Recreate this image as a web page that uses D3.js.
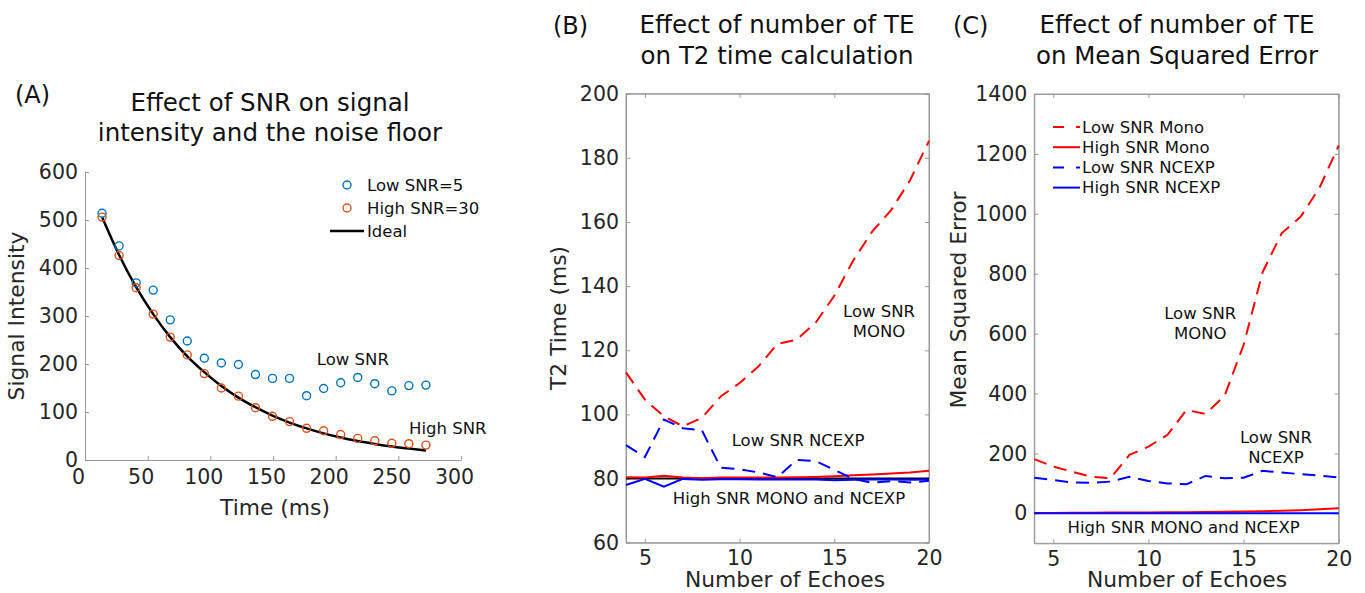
<!DOCTYPE html>
<html>
<head>
<meta charset="utf-8">
<script src="https://cdn.jsdelivr.net/npm/d3@7"></script>
<style>
  body { margin: 0; background: #fff; }
  text { font-family: "DejaVu Sans", Verdana, sans-serif; }
</style>
</head>
<body>
<script>
// ---- data ----
var timeMs = [13.6, 27.2, 40.8, 54.4, 68, 81.6, 95.2, 108.8, 122.4, 136, 149.6, 163.2, 176.8, 190.4, 204, 217.6, 231.2, 244.8, 258.4, 272];
var lowSnrSignal = [514, 446, 369, 354, 292, 248, 212, 202, 199, 178, 170, 170, 134, 149, 161, 172, 159, 144, 155, 156];
var highSnrSignal = [506, 426, 359, 304, 256, 219, 180, 150, 133, 109, 91, 80, 66, 61, 53, 45, 40, 35, 34, 31];
var idealSignal = [506, 427, 360, 304, 256, 216, 183, 154, 130, 110, 92.5, 78, 65.8, 55.5, 46.9, 39.5, 33.4, 28.1, 23.8, 20];

var echoes = [4, 5, 6, 7, 8, 9, 10, 11, 12, 13, 14, 15, 16, 17, 18, 19, 20];
var t2LowMono = [113.1, 104.6, 99.4, 96.3, 98.9, 105.6, 109.8, 115, 122, 123.3, 128.5, 137, 148, 157, 163.7, 173, 185.3];
var t2HighMono = [80.4, 80.3, 80.9, 80.3, 80.1, 80.3, 80.3, 80.3, 80.3, 80.4, 80.5, 80.7, 81, 81.3, 81.6, 81.9, 82.4];
var t2LowNcexp = [90.4, 86.7, 98.4, 95.7, 95.1, 83.4, 82.9, 81.9, 80.4, 85.8, 85.5, 82.7, 79.9, 78.7, 79.2, 78.8, 79.3];
var t2HighNcexp = [78, 79.9, 77.5, 79.9, 79.6, 79.8, 79.8, 79.7, 79.7, 79.7, 79.7, 79.5, 79.6, 79.7, 79.7, 79.6, 79.7];
var t2True = [80, 80];

var mseLowMono = [181, 156, 139, 122, 117, 195, 223, 262, 345, 332, 392, 562, 805, 935, 990, 1088, 1228];
var mseHighMono = [1, 1.5, 2, 2, 2.5, 3, 3, 3.5, 4, 4.5, 5, 6, 7, 8.5, 10.5, 13.5, 17];
var mseLowNcexp = [119, 111, 103, 102, 106, 122, 108, 100, 97, 125, 117, 119, 142, 136, 131, 126, 120];
var mseHighNcexp = [0.6, 0.5, 0.7, 0.5, 0.6, 0.6, 0.5, 0.5, 0.6, 0.5, 0.6, 0.5, 0.6, 0.6, 0.5, 0.6, 0.6];

var timeTicks = [0, 50, 100, 150, 200, 250, 300];
var signalTicks = [0, 100, 200, 300, 400, 500, 600];
var echoTicks = [5, 10, 15, 20];
var t2Ticks = [60, 80, 100, 120, 140, 160, 180, 200];
var mseTicks = [0, 200, 400, 600, 800, 1000, 1200, 1400];

var blueMark = "#0072BD", orangeMark = "#D95319";
var axisGrey = "#9a9a9a", txt = "#262626";
var fmt = d3.format("d");

var svg = d3.select("body").append("svg")
  .attr("width", 1365)
  .attr("height", 593);

// style an axis group the matlab way
function styleAxis(g, fs) {
  g.select(".domain").attr("stroke", axisGrey);
  g.selectAll(".tick line").attr("stroke", axisGrey);
  g.selectAll("text").attr("fill", txt).style("font-size", fs + "px")
    .style("font-family", "'DejaVu Sans', Verdana, sans-serif");
}

function addText(x, y, s, size, anchor, col) {
  return svg.append("text")
    .attr("x", x).attr("y", y)
    .attr("text-anchor", anchor || "start")
    .style("font-size", size + "px")
    .attr("fill", col || "#111")
    .text(s);
}

// ======================= panel A =======================
var xA = d3.scaleLinear().domain([0, 300]).range([85, 461]);
var yA = d3.scaleLinear().domain([0, 600]).range([460, 172]);

svg.append("g")
  .attr("transform", "translate(0,460)")
  .call(d3.axisBottom(xA).tickValues(timeTicks).tickFormat(fmt).tickSizeInner(-4).tickSizeOuter(0).tickPadding(9))
  .call(styleAxis, 20.5)
  .selectAll("text").attr("dx", -7);

svg.append("g")
  .attr("transform", "translate(85,0)")
  .call(d3.axisLeft(yA).tickValues(signalTicks).tickFormat(fmt).tickSizeInner(-4).tickSizeOuter(0).tickPadding(7))
  .call(styleAxis, 20.5);

// ideal decay curve
svg.append("path")
  .datum(timeMs)
  .attr("fill", "none")
  .attr("stroke", "black")
  .attr("stroke-width", 2.5)
  .attr("d", d3.line()
    .curve(d3.curveMonotoneX)
    .x(function (d) { return xA(d); })
    .y(function (d, i) { return yA(idealSignal[i]); }));

svg.append("g").selectAll("circle")
  .data(timeMs)
  .enter()
  .append("circle")
  .attr("cx", function (d) { return xA(d); })
  .attr("cy", function (d, i) { return yA(lowSnrSignal[i]); })
  .attr("r", 4)
  .attr("fill", "none")
  .attr("stroke", blueMark)
  .attr("stroke-width", 1.4);

svg.append("g").selectAll("circle")
  .data(timeMs)
  .enter()
  .append("circle")
  .attr("cx", function (d) { return xA(d); })
  .attr("cy", function (d, i) { return yA(highSnrSignal[i]); })
  .attr("r", 4)
  .attr("fill", "none")
  .attr("stroke", orangeMark)
  .attr("stroke-width", 1.4);

// legend A
svg.append("circle").attr("cx", 347).attr("cy", 185).attr("r", 4)
  .attr("fill", "none").attr("stroke", blueMark).attr("stroke-width", 1.4);
svg.append("circle").attr("cx", 347).attr("cy", 208).attr("r", 4)
  .attr("fill", "none").attr("stroke", orangeMark).attr("stroke-width", 1.4);
svg.append("line").attr("x1", 330).attr("x2", 364).attr("y1", 231).attr("y2", 231)
  .attr("stroke", "black").attr("stroke-width", 2.5);
addText(367, 185, "Low SNR=5", 16.5).attr("dy", "0.35em");
addText(367, 208, "High SNR=30", 16.5).attr("dy", "0.35em");
addText(367, 231, "Ideal", 16.5).attr("dy", "0.35em");

addText(xA(185), yA(198), "Low SNR", 16.5);
addText(xA(258.5), yA(54), "High SNR", 16.5);

addText(15, 103, "(A)", 24);
addText(270, 110.5, "Effect of SNR on signal", 24.5, "middle");
addText(270, 140.5, "intensity and the noise floor", 24.5, "middle");
addText(275, 515, "Time (ms)", 21.8, "middle", txt);
svg.append("text")
  .attr("transform", "translate(24,316)rotate(-90)")
  .attr("text-anchor", "middle")
  .style("font-size", "21.8px")
  .attr("fill", txt)
  .text("Signal Intensity");

// ======================= panels B & C =======================
function boxPanel(x, y, yTicks) {
  var r = x.range(), d = y.range();
  svg.append("rect")
    .attr("x", r[0]).attr("y", d[1])
    .attr("width", r[1] - r[0]).attr("height", d[0] - d[1])
    .attr("fill", "none").attr("stroke", axisGrey);
  svg.append("g").attr("transform", "translate(0," + d[0] + ")")
    .call(d3.axisBottom(x).tickValues(echoTicks).tickFormat(fmt).tickSizeInner(-4).tickSizeOuter(0).tickPadding(8))
    .call(styleAxis, 20.5);
  svg.append("g").attr("transform", "translate(0," + d[1] + ")")
    .call(d3.axisTop(x).tickValues(echoTicks).tickSizeInner(-4).tickSizeOuter(0).tickFormat(""))
    .call(styleAxis, 20.5);
  svg.append("g").attr("transform", "translate(" + r[0] + ",0)")
    .call(d3.axisLeft(y).tickValues(yTicks).tickFormat(fmt).tickSizeInner(-4).tickSizeOuter(0).tickPadding(7))
    .call(styleAxis, 20.5);
  svg.append("g").attr("transform", "translate(" + r[1] + ",0)")
    .call(d3.axisRight(y).tickValues(yTicks).tickSizeInner(-4).tickSizeOuter(0).tickFormat(""))
    .call(styleAxis, 20.5);
}

function series(x, y, vals, col, dashed) {
  svg.append("path")
    .datum(vals)
    .attr("fill", "none")
    .attr("stroke", col)
    .attr("stroke-width", 2)
    .attr("stroke-dasharray", dashed ? "13,8" : null)
    .attr("d", d3.line()
      .x(function (d, i) { return x(echoes[i]); })
      .y(function (d) { return y(d); }));
}

// ---- B ----
var xB = d3.scaleLinear().domain([4, 20]).range([626, 929]);
var yB = d3.scaleLinear().domain([60, 200]).range([542.7, 93.7]);
boxPanel(xB, yB, t2Ticks);

svg.append("line")
  .attr("x1", xB(4)).attr("x2", xB(20))
  .attr("y1", yB(t2True[0])).attr("y2", yB(t2True[1]))
  .attr("stroke", "black").attr("stroke-width", 2);
series(xB, yB, t2HighMono, "red", false);
series(xB, yB, t2HighNcexp, "blue", false);
series(xB, yB, t2LowMono, "red", true);
series(xB, yB, t2LowNcexp, "blue", true);

addText(xB(17.36), yB(130.5), "Low SNR", 16.5, "middle");
addText(xB(17.36), yB(124), "MONO", 16.5, "middle");
addText(xB(9.58), yB(90.2), "Low SNR NCEXP", 16.5);
addText(xB(6.47), yB(72.1), "High SNR MONO and NCEXP", 16.5);

addText(553, 34, "(B)", 24);
addText(777, 33, "Effect of number of TE", 24.5, "middle");
addText(777, 63.5, "on T2 time calculation", 24.5, "middle");
addText(785, 587, "Number of Echoes", 21.8, "middle", txt);
svg.append("text")
  .attr("transform", "translate(566,318)rotate(-90)")
  .attr("text-anchor", "middle")
  .style("font-size", "21.8px")
  .attr("fill", txt)
  .text("T2 Time (ms)");

// ---- C ----
var xC = d3.scaleLinear().domain([4, 20]).range([1034.3, 1338.7]);
var yC = d3.scaleLinear().domain([-100, 1400]).range([543.3, 94]);
boxPanel(xC, yC, mseTicks);

series(xC, yC, mseHighMono, "red", false);
series(xC, yC, mseHighNcexp, "blue", false);
series(xC, yC, mseLowMono, "red", true);
series(xC, yC, mseLowNcexp, "blue", true);

// legend C
var legC = [
  { name: "Low SNR Mono", col: "red", dash: true },
  { name: "High SNR Mono", col: "red", dash: false },
  { name: "Low SNR NCEXP", col: "blue", dash: true },
  { name: "High SNR NCEXP", col: "blue", dash: false }
];
svg.selectAll("legC")
  .data(legC)
  .enter()
  .append("line")
  .attr("x1", 1053).attr("x2", 1080)
  .attr("y1", function (d, i) { return 127 + i * 20.2; })
  .attr("y2", function (d, i) { return 127 + i * 20.2; })
  .attr("stroke", function (d) { return d.col; })
  .attr("stroke-width", 2)
  .attr("stroke-dasharray", function (d) { return d.dash ? "11,12" : null; });
svg.selectAll("legCtxt")
  .data(legC)
  .enter()
  .append("text")
  .attr("x", 1082)
  .attr("y", function (d, i) { return 127 + i * 20.2; })
  .attr("dy", "0.35em")
  .style("font-size", "16.5px")
  .attr("fill", "#111")
  .text(function (d) { return d.name; });

addText(xC(12.72), yC(648), "Low SNR", 16.5, "middle");
addText(xC(12.72), yC(581), "MONO", 16.5, "middle");
addText(xC(16.7), yC(236), "Low SNR", 16.5, "middle");
addText(xC(16.7), yC(169), "NCEXP", 16.5, "middle");
addText(xC(11.85), yC(-67), "High SNR MONO and NCEXP", 16.5, "middle");

addText(953, 34, "(C)", 24);
addText(1177, 33, "Effect of number of TE", 24.5, "middle");
addText(1177, 63.5, "on Mean Squared Error", 24.5, "middle");
addText(1187, 587, "Number of Echoes", 21.8, "middle", txt);
svg.append("text")
  .attr("transform", "translate(966,300)rotate(-90)")
  .attr("text-anchor", "middle")
  .style("font-size", "21.8px")
  .attr("fill", txt)
  .text("Mean Squared Error");
</script>
</body>
</html>
